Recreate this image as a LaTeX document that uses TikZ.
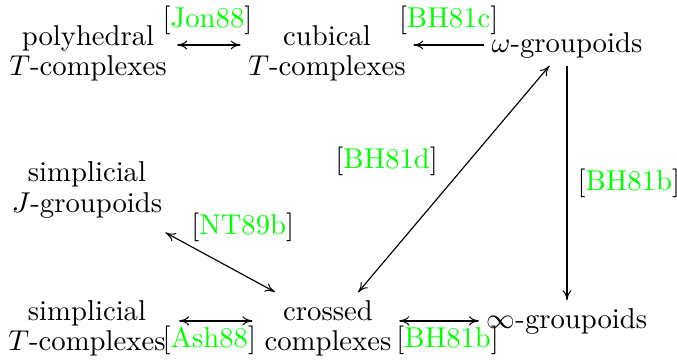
\documentclass[tikz,border=0pt]{standalone}
\usepackage{amsmath}
\usepackage{xcolor}
\usepackage{tikz}
\usetikzlibrary{arrows.meta}
\definecolor{citegreen}{RGB}{0,255,0}
\newcommand{\refcite}[1]{[\textcolor{citegreen}{#1}]}
\tikzset{
  obj/.style={align=center, inner sep=2.5pt, font=\fontsize{10}{10.5}\selectfont},
  onehead/.style={-{To[length=3.5pt, width=3.2pt, line width=0.35pt]}},
  twohead/.style={{To[length=3.5pt, width=3.2pt, line width=0.35pt]}-{To[length=3.5pt, width=3.2pt, line width=0.35pt]}},
  rulearrow/.style={line width=0.7pt},
  slantarrow/.style={line width=0.4pt},
}

\begin{document}
\begin{tikzpicture}[x=0.3485pt, y=-0.3485pt]
      \useasboundingbox (0,0) rectangle (677,360);

      % ---- objets ----
      \node[obj] (poly) at (88,53) {polyhedral\\$T$-complexes};
      \node[obj] (cub) at (327,53) {cubical\\$T$-complexes};
      \node[obj] (omega) at (567,45) {$\omega$-groupoids};
      \node[obj] (sJ) at (87,190) {simplicial\\$J$-groupoids};
      \node[obj] (sT) at (87,328) {simplicial\\$T$-complexes};
      \node[obj] (crossed) at (328,328) {crossed\\complexes};
      \node[obj] (infty) at (567,321) {$\infty$-groupoids};

      % ---- fleches ----
      \draw[twohead, rulearrow, shorten <=1pt] ([yshift=2.8pt]poly.east) -- node[above] {\refcite{Jon88}} ([yshift=2.8pt]cub.west);
      \draw[onehead, rulearrow] (omega.west) -- node[above] {\refcite{BH81c}} (omega.west -| cub.east);
      \draw[onehead, rulearrow] (omega) -- node[right] {\refcite{BH81b}} (infty);
      \draw[twohead, slantarrow] (crossed) -- node[pos=0.47, above left] {\refcite{BH81d}} (omega);
      \draw[twohead, slantarrow, shorten <=5pt, shorten >=21pt] (sJ) -- node[pos=0.2, anchor=south west, inner sep=1pt] {\refcite{NT89b}} ([yshift=2.5pt]crossed.center);
      \draw[twohead, rulearrow, shorten <=2pt, shorten >=1.5pt] ([yshift=2.5pt]sT.east) -- node[below, inner sep=1.5pt, xshift=-2pt] {\refcite{Ash88}} ([yshift=2.5pt]crossed.west);
      \draw[twohead, rulearrow] ([yshift=2.5pt]crossed.east) -- node[below, inner sep=1.5pt, xshift=3pt] {\refcite{BH81b}} ([yshift=2.5pt]crossed.east -| infty.west);

\end{tikzpicture}
\end{document}
